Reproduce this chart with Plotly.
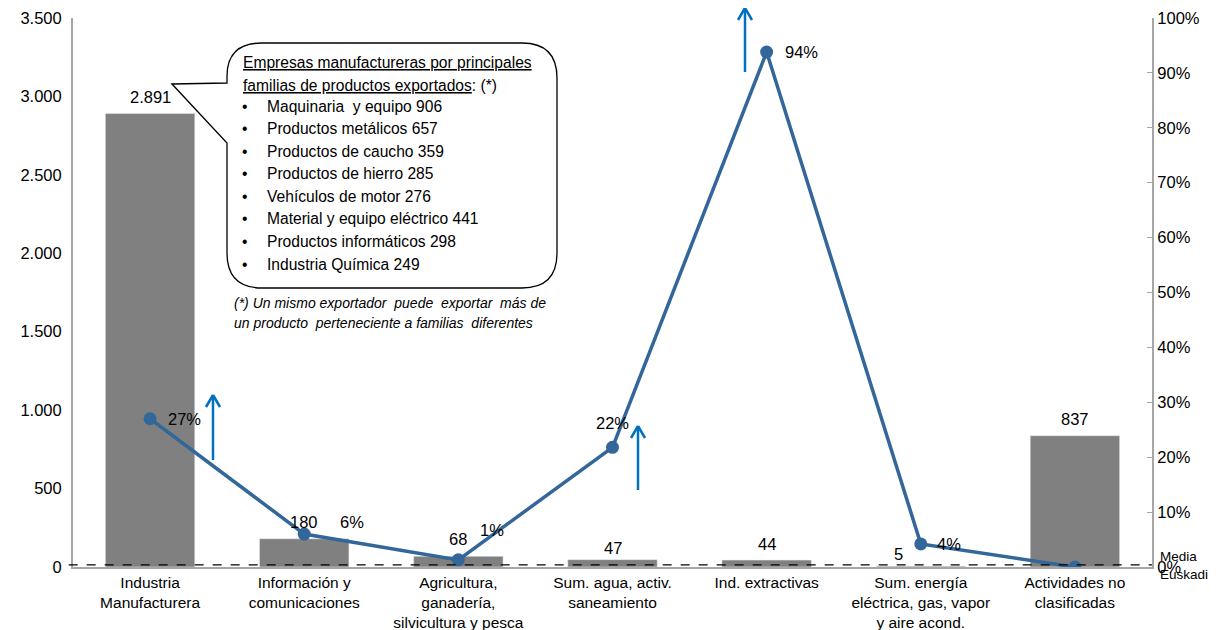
import plotly.graph_objects as go

categories = ["Industria<br>Manufacturera", "Información y<br>comunicaciones",
              "Agricultura,<br>ganadería,<br>silvicultura y pesca",
              "Sum. agua, activ.<br>saneamiento", "Ind. extractivas",
              "Sum. energía<br>eléctrica, gas, vapor<br>y aire acond.",
              "Actividades no<br>clasificadas"]
empresas = [2891, 180, 68, 47, 44, 5, 837]
empresas_txt = ["2.891", "180", "68", "47", "44", "5", "837"]
porcentaje = [0.27, 0.06, 0.013, 0.218, 0.938, 0.042, 0.0]
porcentaje_txt = ["27%", "6%", "1%", "22%", "94%", "4%", ""]
media_euskadi = 0.004

box_title = ["<u>Empresas manufactureras por principales</u>",
             "<u>familias de productos exportados</u>: (*)"]
box_items = ["Maquinaria  y equipo 906", "Productos metálicos 657", "Productos de caucho 359",
             "Productos de hierro 285", "Vehículos de motor 276", "Material y equipo eléctrico 441",
             "Productos informáticos 298", "Industria Química 249"]
footnote = ["(*) Un mismo exportador  puede  exportar  más de",
            "un producto  perteneciente a familias  diferentes"]

W, H = 1219, 630
OFF = 8  # page offset of the figure inside the browser window
SL, SR, ST, SB = 73, 1152, 18, 567  # plot area in screen pixels
ML, MT = SL - OFF, ST - OFF
MR, MB = W - (SR - OFF), H - (SB - OFF)

def px(x, y):
    return (x - SL) / (SR - SL), 1 - (y - ST) / (SB - ST)

FONT = "Liberation Sans, Arial, sans-serif"
fig = go.Figure()
fig.add_trace(go.Bar(x=categories, y=empresas, marker_color="#808080", width=0.58,
                     yaxis="y", hoverinfo="skip"))
fig.add_trace(go.Scatter(x=categories, y=porcentaje, yaxis="y2", mode="lines+markers",
                         line=dict(color="#336699", width=3.5),
                         marker=dict(size=13, color="#336699"), hoverinfo="skip"))

ann = []
val_shift = [(0, 17), (0, 17), (0, 17), (0, 12), (0, 16), (-22, 12), (0, 17)]
for c, v, t, (dx, dy) in zip(categories, empresas, empresas_txt, val_shift):
    ann.append(dict(x=c, y=v, xref="x", yref="y", text=t, showarrow=False,
                    xshift=dx, yshift=dy, font=dict(size=16.5, color="#000")))
pct_shift = [(34, 0), (48, 12), (34, 30), (0, 24), (35, 0), (28, 0), (0, 0)]
for c, v, t, (dx, dy) in zip(categories, porcentaje, porcentaje_txt, pct_shift):
    if t:
        ann.append(dict(x=c, y=v, xref="x", yref="y2", text=t, showarrow=False,
                        xshift=dx, yshift=dy, font=dict(size=16.5, color="#000")))

# callout text
BF = 15.6
for t, yy in zip(box_title, [63, 85]):
    xx, yp = px(241, yy)
    ann.append(dict(x=xx, y=yp, xref="paper", yref="paper", text=t, showarrow=False,
                    xanchor="left", yanchor="middle", font=dict(size=BF, color="#000", family=FONT)))
for i, t in enumerate(box_items):
    yy = 106 + i * 22.6
    xb, yp = px(240, yy)
    ann.append(dict(x=xb, y=yp, xref="paper", yref="paper", text="•", showarrow=False,
                    xanchor="left", yanchor="middle", font=dict(size=BF, color="#000", family=FONT)))
    xt, _ = px(265, yy)
    ann.append(dict(x=xt, y=yp, xref="paper", yref="paper", text=t, showarrow=False,
                    xanchor="left", yanchor="middle", font=dict(size=BF, color="#000", family=FONT)))
for t, yy in zip(footnote, [303, 323]):
    xx, yp = px(232, yy)
    ann.append(dict(x=xx, y=yp, xref="paper", yref="paper", text="<i>" + t + "</i>", showarrow=False,
                    xanchor="left", yanchor="middle", font=dict(size=14, color="#000", family=FONT)))

# Media Euskadi label
xx, _ = px(1158, 0)
ann.append(dict(x=xx, y=media_euskadi, xref="paper", yref="y2", text="Media<br>Euskadi",
                showarrow=False, xanchor="left", yanchor="middle", align="left", yshift=-1,
                font=dict(size=13.5, color="#000", family=FONT)))

shapes = []
pts = "M {} L {} L {} Q {} {} L {} Q {} {} L {} Q {} {} L {} Q {} {} L {} Z"
def P(x, y):
    a, b = px(x, y)
    return f"{a:.5f},{b:.5f}"
path = pts.format(P(172, 84), P(227, 83), P(227, 76), P(227, 43), P(262, 43), P(522, 43),
                  P(557, 43), P(557, 78), P(557, 253), P(557, 288), P(522, 288), P(262, 288),
                  P(227, 288), P(227, 253), P(227, 143))
shapes.append(dict(type="path", path=path, xref="paper", yref="paper",
                   line=dict(color="#000", width=1.3), fillcolor="white", layer="above"))
shapes.append(dict(type="line", xref="paper", yref="y2", x0=-0.004, x1=1, y0=media_euskadi, y1=media_euskadi,
                   line=dict(color="#000", width=1.2, dash="dash")))
for ax_, ytip, ybot in [(213, 395, 460), (638, 426, 490), (745, 8, 72)]:
    x0, y0 = px(ax_, ybot)
    x1, y1 = px(ax_, ytip)
    shapes.append(dict(type="line", xref="paper", yref="paper", x0=x0, y0=y0, x1=x1, y1=y1,
                       line=dict(color="#0070C0", width=2.5)))
    for s in (-7, 7):
        xa, ya = px(ax_ + s, ytip + 12)
        shapes.append(dict(type="line", xref="paper", yref="paper", x0=xa, y0=ya, x1=x1, y1=y1,
                           line=dict(color="#0070C0", width=2.5)))

fig.update_layout(
    width=W, height=H, margin=dict(l=ML, r=MR, t=MT, b=MB, autoexpand=False),
    paper_bgcolor="white", plot_bgcolor="white", showlegend=False,
    separators=",.", font=dict(family=FONT, size=16, color="#000"),
    xaxis=dict(showline=True, linecolor="#A6A6A6", linewidth=2, ticks="", automargin=False,
               tickfont=dict(size=15.5), showgrid=False, range=[-0.5, 6.5]),
    yaxis=dict(range=[0, 3500], dtick=500, showgrid=False, zeroline=False, showline=True,
               linecolor="#A6A6A6", linewidth=2, ticks="", tickfont=dict(size=16.5),
               tickformat=",d", automargin=False, ticklabelstandoff=6),
    yaxis2=dict(range=[0, 1], dtick=0.1, overlaying="y", side="right", showgrid=False,
                zeroline=False, showline=True, linecolor="#A6A6A6", linewidth=2,
                ticks="inside", ticklen=5, tickcolor="#A6A6A6", tickformat=".0%",
                tickfont=dict(size=16.5), automargin=False),
    annotations=ann, shapes=shapes,
)
fig.write_html("out.html")
